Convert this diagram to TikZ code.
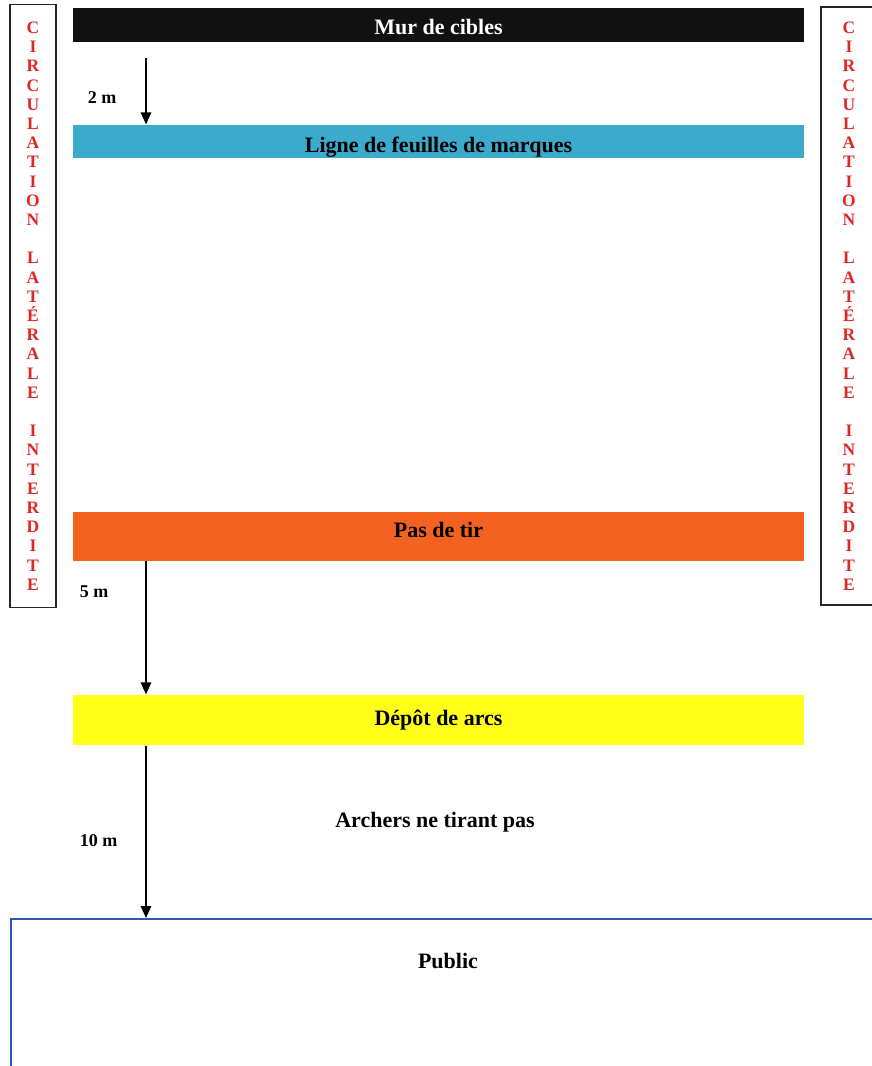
\documentclass[tikz,border=0pt]{standalone}
\usepackage{fontspec}
\setmainfont{Liberation Serif}
\usetikzlibrary{arrows.meta}

\definecolor{wallblack}{RGB}{17,17,17}
\definecolor{markcyan}{RGB}{60,170,205}
\definecolor{fireorange}{RGB}{243,98,32}
\definecolor{bowyellow}{RGB}{255,255,25}
\definecolor{lanered}{RGB}{222,40,40}
\definecolor{publicblue}{RGB}{45,90,172}

\newcommand{\lanetext}{C\\I\\R\\C\\U\\L\\A\\T\\I\\O\\N\\~\\L\\A\\T\\É\\R\\A\\L\\E\\~\\I\\N\\T\\E\\R\\D\\I\\T\\E}

\tikzstyle{bar}=[rectangle,minimum width=731pt,inner sep=0pt,font=\fontsize{22}{26}\selectfont\bfseries]
\tikzstyle{lane}=[rectangle,draw=black!85,line width=1.4pt,inner sep=0pt,align=center,text=lanered,font=\fontsize{17.5}{19.2}\selectfont\bfseries]
\tikzstyle{publicbox}=[rectangle,draw=publicblue,line width=1.5pt,minimum width=900pt,minimum height=200pt]
\tikzstyle{zonetext}=[font=\fontsize{22}{26}\selectfont\bfseries]
\tikzstyle{dist}=[font=\fontsize{18}{20}\selectfont\bfseries]

\begin{document}
\begin{tikzpicture}[x=1pt, y=-1pt, ->, >={Triangle[length=12pt,width=10.5pt]}, line width=1.3pt]
		\useasboundingbox (0,0) rectangle (871,1066);

		\node [bar, fill=wallblack, text=white, minimum height=34pt, text height=19.6pt, text depth=0pt] (wall)  at (438.5, 25)    {Mur de cibles};
		\node [bar, fill=markcyan, minimum height=33pt, text height=21pt, text depth=0pt]            (marks) at (438.5, 141.5)  {Ligne de feuilles de marques};
		\node [bar, fill=fireorange, minimum height=49pt, text height=8pt, text depth=6pt]           (line)  at (438.5, 536)    {Pas de tir};
		\node [bar, fill=bowyellow, minimum height=50pt, text height=10pt, text depth=0pt]           (bows)  at (438.5, 720)    {Dépôt de arcs};
		\node [zonetext]                    (archers)    at (435, 822)  {Archers ne tirant pas};
		\node [publicbox, anchor=north west] (public)    at (10, 918)   {};
		\node [zonetext]                    (publictext) at (448, 961)  {Public};

		\node [lane, minimum width=46pt, minimum height=603pt] (leftlane)  at (33, 306)  {\lanetext};
		\node [lane, minimum width=56pt, minimum height=598pt] (rightlane) at (849, 306) {\lanetext};

		\node [dist] (d2)  at (102, 97.5) {2 m};
		\node [dist] (d5)  at (94, 592)   {5 m};
		\node [dist] (d10) at (98.5, 841) {10 m};

		\coordinate (start) at (146, 58);
		\draw (start)              -- (marks.north -| start);
		\draw (line.south -| start) -- (bows.north -| start);
		\draw (bows.south -| start) -- (public.north -| start);
	\end{tikzpicture}
\end{document}
